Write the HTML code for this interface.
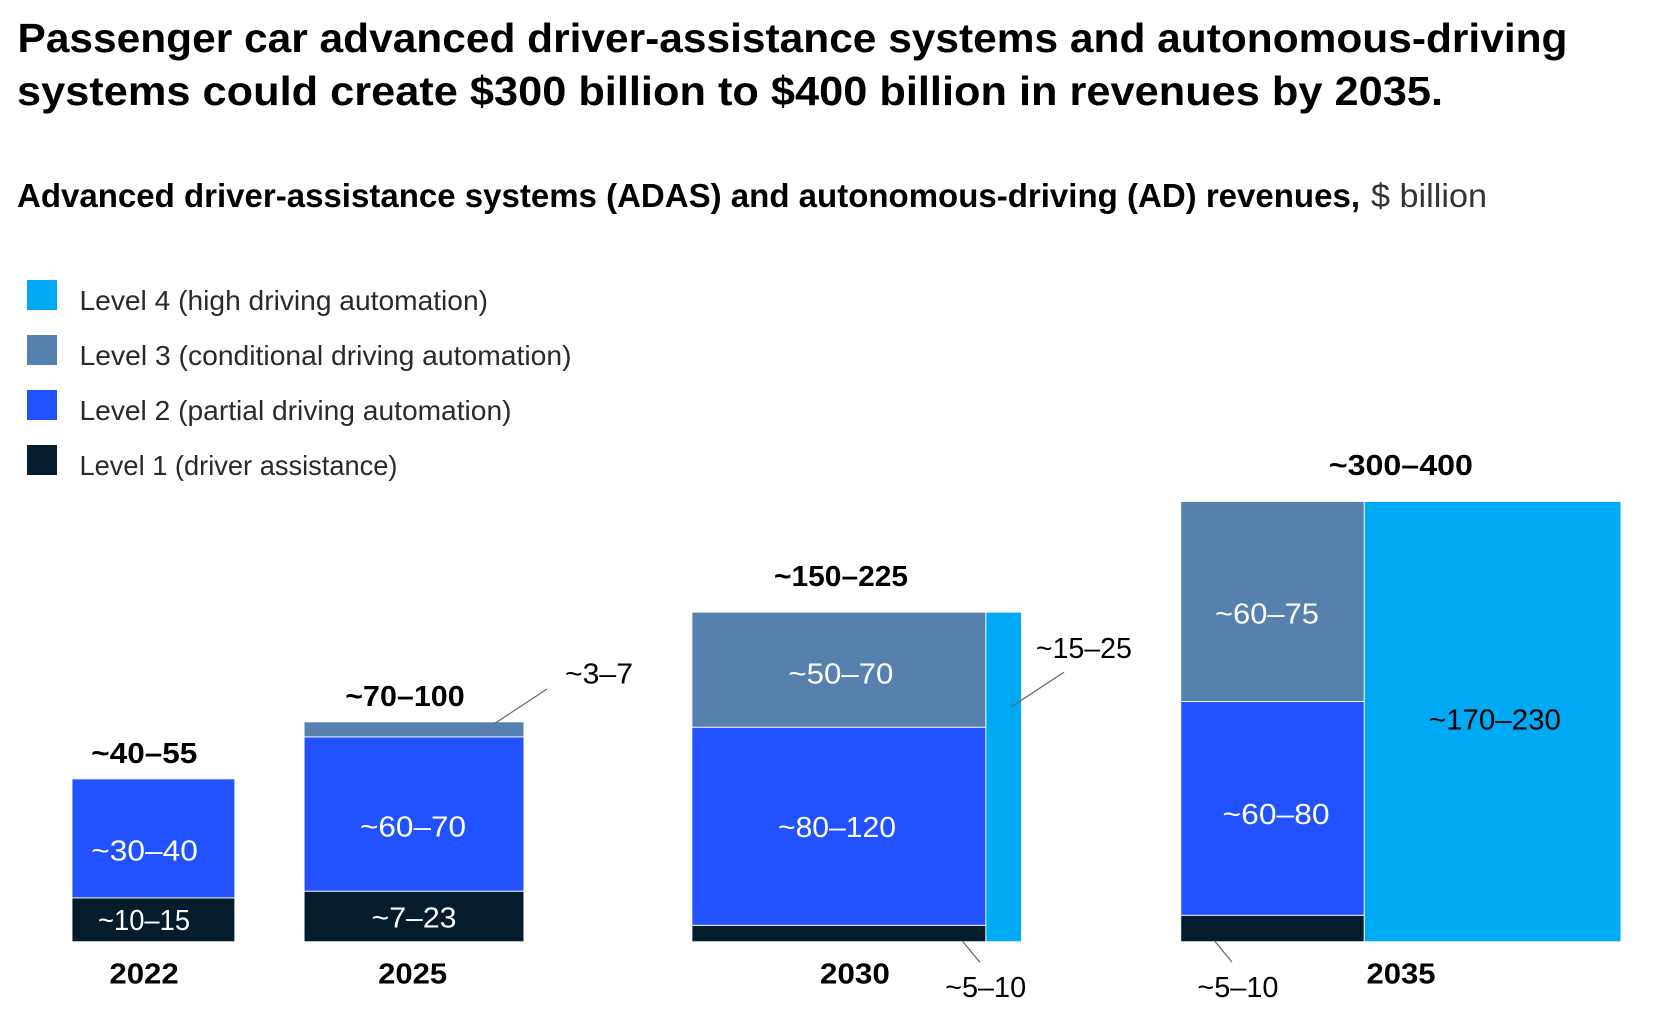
<!DOCTYPE html>
<html lang="en">
<head>
<meta charset="utf-8">
<title>ADAS and AD revenues</title>
<style>
  html, body { margin: 0; padding: 0; background: #ffffff; }
  body { width: 1672px; height: 1016px; overflow: hidden; }
  svg { display: block; font-family: "Liberation Sans", sans-serif; }
  .head { font-weight: 700; font-size: 41px; fill: #000000; }
  .sub { font-weight: 700; font-size: 33px; fill: #000000; }
  .unit { font-weight: 400; font-size: 33px; fill: #333333; }
  .legend { font-weight: 400; font-size: 28px; fill: #2a2a2a; }
  .value { font-weight: 400; font-size: 29px; }
  .strong { font-weight: 700; font-size: 29px; fill: #000000; }
</style>
</head>
<body>
<svg id="chart" width="1672" height="1016" viewBox="0 0 1672 1016" xmlns="http://www.w3.org/2000/svg">
  <text class="head" x="17.5" y="52" textLength="1550" lengthAdjust="spacingAndGlyphs">Passenger car advanced driver-assistance systems and autonomous-driving</text>
  <text class="head" x="17" y="105" textLength="1426" lengthAdjust="spacingAndGlyphs">systems could create $300 billion to $400 billion in revenues by 2035.</text>
  <text class="sub" x="17" y="207" textLength="1343" lengthAdjust="spacingAndGlyphs">Advanced driver-assistance systems (ADAS) and autonomous-driving (AD) revenues,</text>
  <text class="unit" x="1371" y="207" textLength="116" lengthAdjust="spacingAndGlyphs">$ billion</text>

  <g>
    <rect x="27" y="280" width="30" height="30" fill="#00A9F4"/>
    <text class="legend" x="79.5" y="310.2" textLength="408.5" lengthAdjust="spacingAndGlyphs">Level 4 (high driving automation)</text>
    <rect x="27" y="335" width="30" height="30" fill="#5681AE"/>
    <text class="legend" x="79.5" y="365.2" textLength="492" lengthAdjust="spacingAndGlyphs">Level 3 (conditional driving automation)</text>
    <rect x="27" y="390" width="30" height="30" fill="#2251FF"/>
    <text class="legend" x="79.5" y="420.2" textLength="432" lengthAdjust="spacingAndGlyphs">Level 2 (partial driving automation)</text>
    <rect x="27" y="445" width="30" height="30" fill="#051C2C"/>
    <text class="legend" x="79.5" y="475.2" textLength="318" lengthAdjust="spacingAndGlyphs">Level 1 (driver assistance)</text>
  </g>

  <g id="marks"></g>
</svg>
<script>
// Chart data: revenue areas, $ billion
const years = ['2022', '2025', '2030', '2035'];
const level1Values = [12.8, 19.9, 8.6, 8.7];
const level2Values = [34.7, 60.8, 104.4, 70.3];
const level3Values = [0, 5.9, 60.6, 65.8];
const level4Values = [0, 0, 21, 202.5];
// Printed labels
const totalLabels = ['~40–55', '~70–100', '~150–225', '~300–400'];
const level1Labels = ['~10–15', '~7–23', '~5–10', '~5–10'];
const level2Labels = ['~30–40', '~60–70', '~80–120', '~60–80'];
const level3Labels = ['', '~3–7', '~50–70', '~60–75'];
const level4Labels = ['', '', '~15–25', '~170–230'];

function drawChart() {
  const SVG_NS = 'http://www.w3.org/2000/svg';
  const root = document.getElementById('marks');
  const baseline = 941.7;
  const firstLeft = 72;
  const areaPerUnit = 558;
  const gapsAfter = [69.3, 168, 159.3];
  const colors = { 1: '#051C2C', 2: '#2251FF', 3: '#5681AE', 4: '#00A9F4' };
  const dark = '#000000';
  const light = '#ffffff';
  // Axis functions: a year's block is a square whose area encodes its total
  const sideOf = function (total) { return Math.sqrt(total * areaPerUnit); };
  const segmentHeight = function (value, stackTotal, side) { return side * value / stackTotal; };
  const columnWidth = function (value, total, side) { return side * value / total; };

  // Label placement relative to each segment centre
  const yearPlace = [{ dx: -9.35, w: 69.4 }, { dx: -1.35, w: 69 }, { dx: -1.85, w: 70 }, { dx: 0.1, w: 69 }];
  const totalPlace = [{ dx: -9.1, dy: -16, w: 106 }, { dx: -9.05, dy: -15.7, w: 119.4 }, { dx: -15.65, dy: -26, w: 134 }, { dx: 0, dy: -26.4, w: 144 }];
  const segPlace = {
    1: [
      { dx: -9.35, dy: 10, w: 92, fill: light },
      { dx: 0, dy: 11.3, w: 85, fill: light },
      { dx: 146.7, dy: 63.65, w: 81, fill: dark, leader: [123.8, 8, 140.9, 28.65] },
      { dx: -34.6, dy: 68.7, w: 81, fill: dark, leader: [-57.5, 13, -40.5, 33.7] }
    ],
    2: [
      { dx: -8.85, dy: 22.3, w: 106.5, fill: light },
      { dx: -1, dy: 22.7, w: 106, fill: light },
      { dx: -1.9, dy: 10.6, w: 118, fill: light },
      { dx: 3.55, dy: 15.7, w: 107, fill: light }
    ],
    3: [
      null,
      { dx: 185, dy: -45.8, w: 68, fill: dark, leader: [80.5, -5.8, 132.8, -40.2] },
      { dx: 2, dy: 13.95, w: 105, fill: light },
      { dx: -5.55, dy: 22.15, w: 104, fill: light }
    ],
    4: [
      null,
      null,
      { dx: 80.25, dy: -118.85, w: 96, fill: dark, leader: [7.75, -70.15, 60.45, -104.85] },
      { dx: 2.3, dy: 8.15, w: 132, fill: dark }
    ]
  };

  function addRect(name, x, y, w, h, fill) {
    const el = document.createElementNS(SVG_NS, 'rect');
    el.setAttribute('x', x.toFixed(2));
    el.setAttribute('y', y.toFixed(2));
    el.setAttribute('width', w.toFixed(2));
    el.setAttribute('height', h.toFixed(2));
    el.setAttribute('fill', fill);
    el.setAttribute('stroke', '#ffffff');
    el.setAttribute('stroke-width', '1');
    el.setAttribute('stroke-opacity', '0.85');
    
    
    root.appendChild(el);
  }

  function addText(name, str, cx, y, w, cls, fill) {
    const el = document.createElementNS(SVG_NS, 'text');
    el.textContent = str;
    el.setAttribute('class', cls);
    el.setAttribute('x', cx.toFixed(2));
    el.setAttribute('y', y.toFixed(2));
    el.setAttribute('text-anchor', 'middle');
    el.setAttribute('textLength', w);
    el.setAttribute('lengthAdjust', 'spacingAndGlyphs');
    if (fill) { el.setAttribute('fill', fill); }
    
    
    root.appendChild(el);
  }

  function addLeader(name, cx, cy, d) {
    const el = document.createElementNS(SVG_NS, 'line');
    el.setAttribute('x1', (cx + d[0]).toFixed(2));
    el.setAttribute('y1', (cy + d[1]).toFixed(2));
    el.setAttribute('x2', (cx + d[2]).toFixed(2));
    el.setAttribute('y2', (cy + d[3]).toFixed(2));
    el.setAttribute('stroke', '#666666');
    el.setAttribute('stroke-width', '1.2');
    
    
    root.appendChild(el);
  }

  function addSegmentLabel(level, i, str, cx, cy) {
    const place = segPlace[level][i];
    if (!str || !place) { return; }
    addText('value-label-level-' + level + '-' + years[i], str, cx + place.dx, cy + place.dy, place.w, 'value', place.fill);
    if (place.leader) {
      addLeader('leader-line-level-' + level + '-' + years[i], cx, cy, place.leader);
    }
  }

  let left = firstLeft;
  years.forEach(function (year, i) {
    const stackValues = [level1Values[i], level2Values[i], level3Values[i]];
    const stackLabels = [level1Labels[i], level2Labels[i], level3Labels[i]];
    const stackTotal = stackValues[0] + stackValues[1] + stackValues[2];
    const total = stackTotal + level4Values[i];
    const side = sideOf(total);
    const l4Width = columnWidth(level4Values[i], total, side);
    const stackWidth = side - l4Width;
    const top = baseline - side;

    let cursor = baseline;
    const labelJobs = [];
    stackValues.forEach(function (value, k) {
      if (value <= 0) { return; }
      const h = segmentHeight(value, stackTotal, side);
      cursor -= h;
      addRect('bar-' + year + '-level-' + (k + 1), left, cursor, stackWidth, h, colors[k + 1]);
      labelJobs.push([k + 1, stackLabels[k], left + stackWidth / 2, cursor + h / 2]);
    });
    if (level4Values[i] > 0) {
      addRect('bar-' + year + '-level-4', left + stackWidth, top, l4Width, side, colors[4]);
      labelJobs.push([4, level4Labels[i], left + stackWidth + l4Width / 2, top + side / 2]);
    }
    labelJobs.forEach(function (job) {
      addSegmentLabel(job[0], i, job[1], job[2], job[3]);
    });

    const centre = left + side / 2;
    addText('total-label-' + year, totalLabels[i], centre + totalPlace[i].dx, top + totalPlace[i].dy, totalPlace[i].w, 'strong');
    addText('year-label-' + year, year, centre + yearPlace[i].dx, baseline + 42, yearPlace[i].w, 'strong');

    left += side + (i < gapsAfter.length ? gapsAfter[i] : 0);
  });
}
drawChart();
</script>
</body>
</html>
